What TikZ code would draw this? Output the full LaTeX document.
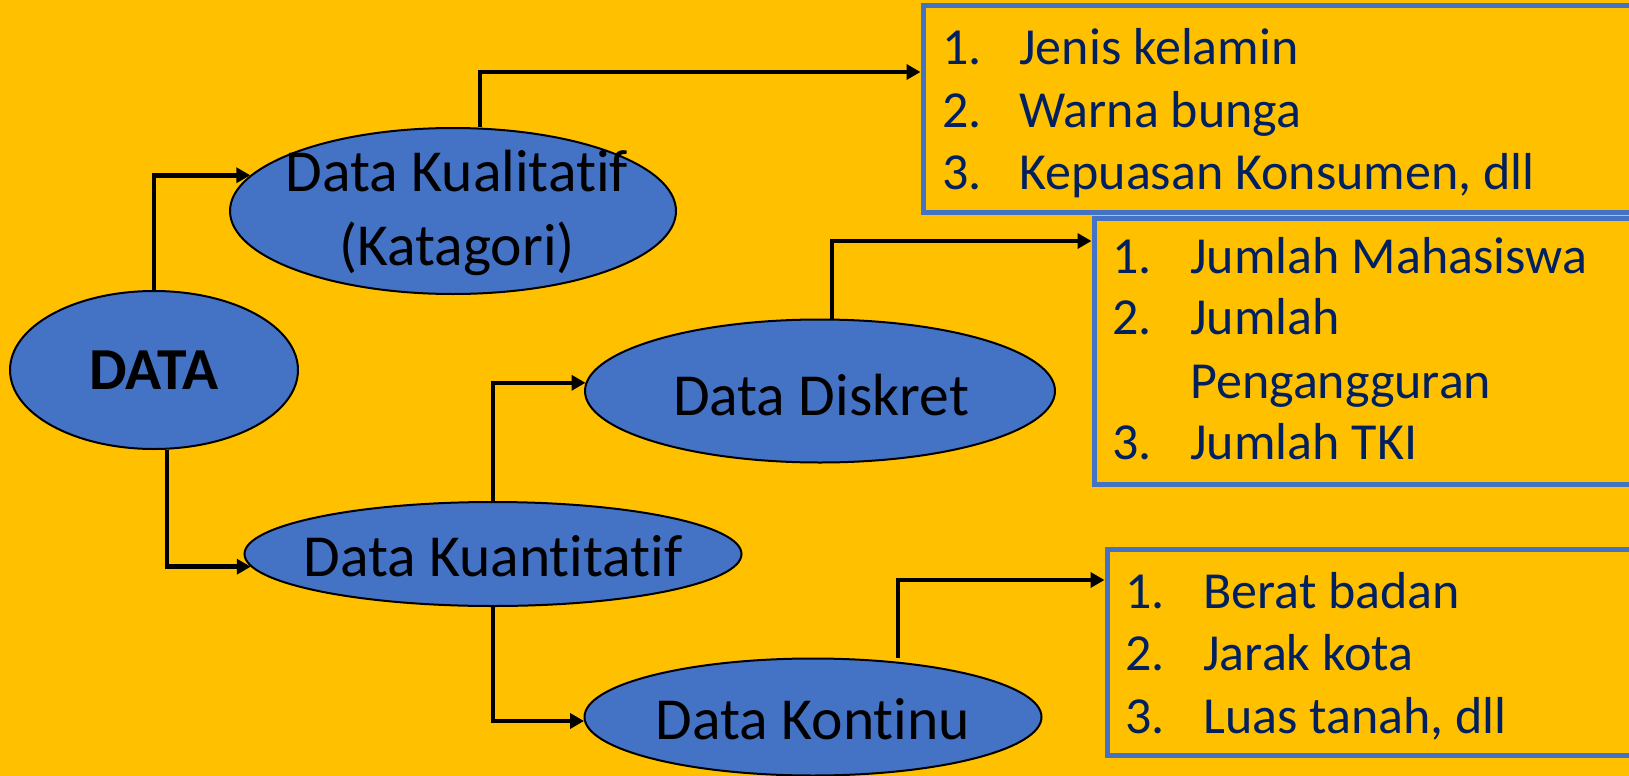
\documentclass[tikz,border=0pt]{standalone}
\usepackage{fontspec}
\setmainfont{Carlito}[Ligatures=NoCommon]
\usetikzlibrary{arrows.meta,shapes.geometric}
\definecolor{bg}{HTML}{FFC000}
\definecolor{eblue}{HTML}{4472C4}
\definecolor{navy}{HTML}{002060}
\begin{document}
\begin{tikzpicture}[x=0.5pt,y=-0.5pt,
 ell/.style={ellipse, draw=black, line width=1pt, fill=eblue, inner sep=0pt},
 etext/.style={font=\fontsize{29.8}{37}\selectfont, align=center, inner sep=0pt, text=black},
 listbox/.style={draw=eblue, line width=2.5pt, rectangle, inner sep=0pt},
 btext/.style={font=\fontsize{26}{31}\selectfont, text=navy, anchor=base west, inner sep=0pt},
 arr/.style={draw=black, line width=2.25pt, -{Triangle[length=7pt,width=7.5pt]}}]

\fill[bg] (0,0) rectangle (1629,776);
\useasboundingbox (0,0) rectangle (1629,776);

% ellipses
\node[ell, minimum width=144pt, minimum height=79pt] (data) at (154,370) {};
\node[ell, minimum width=223pt, minimum height=83pt] (kual) at (453,211) {};
\node[ell, minimum width=235pt, minimum height=71.5pt] (disk) at (820,391) {};
\node[ell, minimum width=248.5pt, minimum height=52pt] (kuan) at (493,554) {};
\node[ell, minimum width=228.5pt, minimum height=58.5pt] (kont) at (813,717) {};

\node[etext, font=\fontsize{29.8}{37}\selectfont\bfseries] (datat) at (data) {DATA};
\node[etext] (kualt) at (457,213) {Data Kualitatif\\(Katagori)};
\node[etext] (diskt) at (821,395) {Data Diskret};
\node[etext] (kuant) at (493,556) {Data Kuantitatif};
\node[etext] (kontt) at (813,719) {Data Kontinu};

% boxes
\node[listbox, minimum width=363.5pt, minimum height=103.5pt] (box1) at (1286.5,108.5) {};
\node[listbox, minimum width=278pt, minimum height=133pt] (box2) at (1372,351) {};
\node[listbox, minimum width=271.5pt, minimum height=103pt] (box3) at (1378.5,652) {};

% box 1 text
\node[btext] (b1n1) at (942,64) {1.};
\node[btext] (b1t1) at (1019,64) {Jenis kelamin};
\node[btext] (b1n2) at (942,127) {2.};
\node[btext] (b1t2) at (1019,127) {Warna bunga};
\node[btext] (b1n3) at (942,189) {3.};
\node[btext] (b1t3) at (1019,189) {Kepuasan Konsumen, dll};

% box 2 text
\node[btext] (b2n1) at (1112,273) {1.};
\node[btext] (b2t1) at (1190,273) {Jumlah Mahasiswa};
\node[btext] (b2n2) at (1112,334) {2.};
\node[btext] (b2t2) at (1190,334) {Jumlah};
\node[btext] (b2t2b) at (1190,398) {Pengangguran};
\node[btext] (b2n3) at (1112,459) {3.};
\node[btext] (b2t3) at (1190,459) {Jumlah TKI};

% box 3 text
\node[btext] (b3n1) at (1125,608) {1.};
\node[btext] (b3t1) at (1203,608) {Berat badan};
\node[btext] (b3n2) at (1125,670) {2.};
\node[btext] (b3t2) at (1203,670) {Jarak kota};
\node[btext] (b3n3) at (1125,733) {3.};
\node[btext] (b3t3) at (1203,733) {Luas tanah, dll};

% connectors
\draw[arr] (data.north) |- (kual.170);
\draw[arr] ([xshift=13.5pt]kual.north) |- ([yshift=18.25pt]box1.west);
\draw[arr] ([xshift=6.5pt]data.south) |- (kuan.183);
\draw[arr] (kuan.north) |- (disk.178);
\draw[arr] (kuan.south) |- (kont.181.5);
\draw[arr] ([xshift=6pt]disk.north) |- ([yshift=55pt]box2.west);
\draw[arr] ([xshift=42.5pt]kont.north) |- ([yshift=36pt]box3.west);
\end{tikzpicture}
\end{document}
